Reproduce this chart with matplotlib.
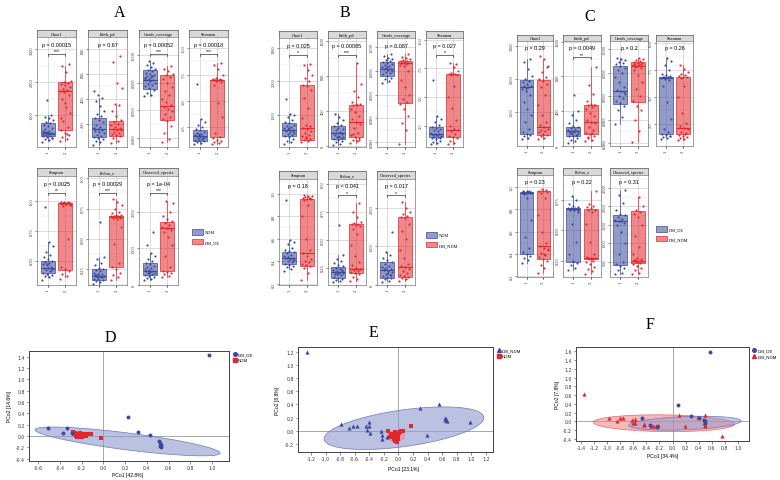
import numpy as np
import matplotlib
matplotlib.use("Agg")
import matplotlib.pyplot as plt
from matplotlib.patches import Patch
from matplotlib.lines import Line2D
from matplotlib.colors import to_rgba
import matplotlib.transforms as mtrans
from matplotlib.ticker import FormatStrFormatter, MultipleLocator

# ---------------- DATA: alpha diversity box panels ----------------
metrics = ["Chao1", "Faith_pd", "Goods_coverage", "Shannon", "Simpson", "Pielou_e", "Observed_species"]
groups_A = ["NDM", "DM_DE"]
groups_B = ["NDM", "DM_NDM"]
groups_C = ["DM_DE", "DM_NDM"]

# box stats: [whisker_lo, q1, median, q3, whisker_hi] per group
# ----- Panel A -----
A_chao1_box = [[200, 370, 450, 740, 1000], [200, 550, 1720, 2000, 2500]]
A_chao1_g1 = [180, 220, 260, 300, 330, 350, 370, 390, 410, 420, 440, 450, 470, 500, 520, 560, 600, 650, 700, 740, 780, 850, 900, 950, 1000, 1450, 380, 430, 480, 310]
A_chao1_g2 = [200, 260, 330, 380, 450, 550, 620, 800, 1050, 1250, 1500, 1600, 1700, 1720, 1750, 1800, 1850, 1900, 1950, 1980, 2000, 2050, 2300, 2500, 2550, 1350, 900, 420]
A_faith_box = [[25, 88, 152, 248, 405], [40, 101, 152, 217, 350]]
A_faith_g1 = [30, 50, 60, 75, 85, 90, 100, 110, 120, 130, 140, 150, 155, 160, 175, 190, 210, 230, 245, 260, 280, 300, 340, 380, 405, 430, 460]
A_faith_g2 = [40, 60, 80, 95, 105, 115, 125, 135, 145, 150, 155, 165, 175, 185, 200, 215, 230, 260, 300, 350, 357, 490, 530, 700, 750]
A_goods_box = [[0.9925, 0.9939, 0.9955, 0.9972, 0.9988], [0.9843, 0.9882, 0.9908, 0.9964, 0.9979]]
A_goods_g1 = [0.9925, 0.9928, 0.9932, 0.9936, 0.994, 0.9943, 0.9946, 0.9948, 0.995, 0.9952, 0.9954, 0.9955, 0.9957, 0.9959, 0.996, 0.9962, 0.9964, 0.9966, 0.9968, 0.997, 0.9972, 0.9975, 0.9978, 0.9982, 0.9985, 0.9988, 0.9958, 0.9962]
A_goods_g2 = [0.9843, 0.9848, 0.986, 0.9872, 0.988, 0.9884, 0.9888, 0.9893, 0.9898, 0.9902, 0.9906, 0.991, 0.9915, 0.992, 0.9928, 0.9935, 0.9942, 0.995, 0.9956, 0.996, 0.9963, 0.9966, 0.997, 0.9975, 0.9979]
A_shannon_box = [[0.9, 1.23, 1.7, 2.24, 3.29], [0.9, 1.58, 6.97, 7.03, 8.6]]
A_shannon_g1 = [0.9, 1.0, 1.1, 1.2, 1.25, 1.3, 1.4, 1.5, 1.55, 1.6, 1.65, 1.7, 1.75, 1.8, 1.9, 2.0, 2.1, 2.2, 2.3, 2.5, 2.7, 3.0, 3.3, 6.6, 1.45, 1.85]
A_shannon_g2 = [0.9, 1.0, 1.1, 1.2, 1.3, 1.5, 1.6, 2.0, 3.5, 4.8, 6.5, 6.8, 6.9, 6.95, 6.97, 7.0, 7.0, 7.02, 7.05, 7.1, 7.2, 7.5, 8.0, 8.4, 8.6, 6.98]
A_simpson_box = [[0.36, 0.40, 0.44, 0.50, 0.66], [0.36, 0.42, 0.98, 0.985, 0.99]]
A_simpson_g1 = [0.34, 0.36, 0.37, 0.38, 0.39, 0.40, 0.41, 0.42, 0.43, 0.44, 0.44, 0.45, 0.46, 0.47, 0.48, 0.49, 0.50, 0.51, 0.53, 0.55, 0.57, 0.62, 0.66, 0.95, 0.42, 0.47]
A_simpson_g2 = [0.35, 0.37, 0.39, 0.41, 0.43, 0.45, 0.68, 0.96, 0.97, 0.975, 0.978, 0.98, 0.98, 0.982, 0.983, 0.985, 0.986, 0.987, 0.988, 0.99, 0.99, 0.97, 0.975]
A_pielou_box = [[0.13, 0.161, 0.195, 0.25, 0.35], [0.16, 0.27, 0.68, 0.685, 0.83]]
A_pielou_g1 = [0.13, 0.14, 0.15, 0.16, 0.165, 0.17, 0.18, 0.185, 0.19, 0.195, 0.2, 0.205, 0.21, 0.22, 0.23, 0.24, 0.25, 0.26, 0.28, 0.3, 0.33, 0.35, 0.64, 0.2, 0.18]
A_pielou_g2 = [0.16, 0.18, 0.2, 0.22, 0.25, 0.27, 0.3, 0.46, 0.6, 0.66, 0.67, 0.68, 0.68, 0.685, 0.69, 0.69, 0.7, 0.7, 0.71, 0.72, 0.75, 0.78, 0.8, 0.83, 0.67]
A_observed_box = [[140, 270, 380, 590, 860], [200, 370, 1550, 1740, 2300]]
A_observed_g1 = [120, 150, 180, 210, 240, 270, 290, 310, 330, 350, 370, 380, 400, 420, 450, 480, 520, 560, 590, 640, 700, 780, 860, 1100, 1450, 330]
A_observed_g2 = [200, 240, 280, 320, 360, 380, 500, 800, 1100, 1300, 1450, 1500, 1550, 1600, 1650, 1700, 1750, 1800, 1900, 2000, 2300, 2250, 1560]
A_ptext = ["p = 0.00015", "p = 0.67", "p = 0.00052", "p = 0.00018", "p = 0.0025", "p = 0.00029", "p = 1e-04"]
A_stars = ["***", "", "***", "***", "**", "***", "***"]

# ----- Panel B -----
B_chao1_box = [[150, 365, 550, 740, 1020], [200, 250, 600, 1890, 2520]]
B_chao1_g1 = [120, 170, 220, 280, 330, 360, 390, 420, 450, 480, 510, 540, 560, 590, 620, 660, 700, 740, 780, 850, 920, 980, 1020, 1470, 500, 610]
B_chao1_g2 = [180, 220, 250, 280, 320, 360, 400, 450, 500, 560, 600, 650, 700, 900, 1200, 1500, 1750, 1850, 1900, 2000, 2100, 2200, 2350, 2500, 2520, 300]
B_faith_box = [[10, 77, 140, 228, 362], [30, 96, 267, 468, 940]]
B_faith_g1 = [10, 25, 40, 55, 65, 75, 85, 95, 105, 115, 125, 135, 140, 150, 160, 175, 190, 205, 220, 235, 260, 290, 330, 362, 145, 100]
B_faith_g2 = [30, 50, 70, 90, 100, 120, 150, 200, 250, 270, 300, 340, 380, 420, 460, 470, 475, 480, 500, 560, 620, 700, 940, 130, 60]
B_goods_box = [[0.9924, 0.994, 0.9955, 0.9968, 0.9985], [0.9795, 0.9882, 0.9966, 0.9971, 0.9985]]
B_goods_g1 = [0.9924, 0.9928, 0.9932, 0.9936, 0.994, 0.9943, 0.9946, 0.9948, 0.995, 0.9952, 0.9954, 0.9955, 0.9957, 0.9959, 0.996, 0.9962, 0.9964, 0.9966, 0.9968, 0.997, 0.9972, 0.9975, 0.9978, 0.9982, 0.9985, 0.9958]
B_goods_g2 = [0.9795, 0.9825, 0.984, 0.9855, 0.987, 0.988, 0.9885, 0.989, 0.99, 0.9915, 0.993, 0.995, 0.996, 0.9963, 0.9965, 0.9966, 0.9967, 0.9968, 0.997, 0.9971, 0.9973, 0.9975, 0.9978, 0.998, 0.9985]
B_shannon_box = [[0.9, 1.49, 1.78, 2.36, 3.37], [0.9, 1.49, 2.1, 7.0, 8.0]]
B_shannon_g1 = [0.9, 1.0, 1.1, 1.2, 1.3, 1.4, 1.5, 1.55, 1.6, 1.65, 1.7, 1.75, 1.8, 1.9, 2.0, 2.1, 2.2, 2.3, 2.4, 2.6, 2.8, 3.1, 3.37, 6.5, 1.45]
B_shannon_g2 = [0.9, 1.0, 1.2, 1.4, 1.5, 1.6, 1.8, 2.0, 2.1, 2.2, 2.5, 3.0, 4.0, 5.0, 6.0, 6.9, 6.95, 7.0, 7.0, 7.05, 7.1, 7.3, 7.6, 8.0, 7.9]
B_simpson_box = [[0.33, 0.38, 0.43, 0.48, 0.59], [0.23, 0.36, 0.47, 0.956, 0.99]]
B_simpson_g1 = [0.31, 0.33, 0.35, 0.36, 0.37, 0.38, 0.39, 0.40, 0.41, 0.42, 0.43, 0.43, 0.44, 0.45, 0.46, 0.47, 0.48, 0.49, 0.5, 0.52, 0.55, 0.57, 0.59, 0.94, 0.41]
B_simpson_g2 = [0.23, 0.3, 0.34, 0.36, 0.37, 0.38, 0.39, 0.4, 0.42, 0.45, 0.47, 0.5, 0.6, 0.8, 0.9, 0.94, 0.95, 0.955, 0.96, 0.965, 0.97, 0.975, 0.98, 0.99, 0.96]
B_pielou_box = [[0.12, 0.16, 0.21, 0.255, 0.36], [0.13, 0.2, 0.24, 0.64, 0.83]]
B_pielou_g1 = [0.12, 0.13, 0.14, 0.15, 0.16, 0.17, 0.18, 0.19, 0.2, 0.205, 0.21, 0.215, 0.22, 0.23, 0.24, 0.25, 0.26, 0.27, 0.29, 0.31, 0.33, 0.36, 0.63, 0.19, 0.23]
B_pielou_g2 = [0.13, 0.15, 0.17, 0.19, 0.2, 0.21, 0.22, 0.23, 0.24, 0.25, 0.27, 0.3, 0.35, 0.45, 0.55, 0.6, 0.62, 0.63, 0.64, 0.64, 0.65, 0.66, 0.7, 0.75, 0.83]
B_observed_box = [[100, 175, 375, 590, 850], [100, 200, 460, 1770, 2150]]
B_observed_g1 = [60, 100, 140, 175, 200, 230, 260, 290, 320, 350, 375, 400, 430, 460, 500, 540, 590, 640, 700, 780, 850, 1380, 300, 420, 250]
B_observed_g2 = [100, 150, 180, 200, 230, 260, 300, 350, 400, 460, 500, 550, 700, 900, 1200, 1400, 1600, 1750, 1770, 1800, 1850, 1900, 2000, 2150]
B_ptext = ["p = 0.025", "p = 0.00085", "p = 0.087", "p = 0.027", "p = 0.18", "p = 0.041", "p = 0.017"]
B_stars = ["*", "***", "", "*", "", "*", "*"]

# ----- Panel C -----
C_chao1_box = [[180, 330, 1750, 1960, 2600], [180, 300, 540, 1980, 2600]]
C_chao1_g1 = [180, 220, 260, 300, 330, 400, 500, 700, 900, 1100, 1300, 1500, 1650, 1700, 1750, 1780, 1800, 1850, 1900, 1950, 2000, 2100, 2300, 2500, 2600, 1720]
C_chao1_g2 = [180, 220, 260, 300, 340, 380, 420, 460, 500, 540, 600, 700, 900, 1200, 1500, 1750, 1850, 1950, 2000, 2050, 2200, 2400, 2600, 2700, 2350]
C_faith_box = [[30, 114, 165, 210, 400], [50, 133, 274, 465, 914]]
C_faith_g1 = [30, 50, 70, 90, 105, 115, 125, 135, 145, 155, 160, 165, 170, 180, 190, 200, 210, 230, 260, 300, 350, 400, 590, 150, 120]
C_faith_g2 = [50, 70, 90, 110, 130, 150, 180, 220, 260, 275, 300, 340, 380, 420, 450, 465, 470, 480, 520, 600, 700, 914, 140, 100, 470]
C_goods_box = [[0.984, 0.9883, 0.9911, 0.9964, 0.9981], [0.9802, 0.9888, 0.9964, 0.9972, 0.998]]
C_goods_g1 = [0.984, 0.9855, 0.987, 0.988, 0.9885, 0.989, 0.9895, 0.99, 0.9905, 0.991, 0.9912, 0.992, 0.993, 0.994, 0.995, 0.9955, 0.996, 0.9964, 0.9968, 0.997, 0.9973, 0.9976, 0.9978, 0.9981, 0.9908]
C_goods_g2 = [0.9802, 0.9825, 0.985, 0.987, 0.988, 0.989, 0.99, 0.9915, 0.993, 0.9945, 0.9955, 0.996, 0.9963, 0.9965, 0.9966, 0.9968, 0.997, 0.9971, 0.9972, 0.9974, 0.9976, 0.9978, 0.998, 0.9962, 0.9969]
C_shannon_box = [[1.27, 1.57, 6.8, 6.9, 8.6], [1.0, 1.57, 2.1, 6.9, 8.0]]
C_shannon_g1 = [1.1, 1.2, 1.3, 1.4, 1.5, 1.6, 1.8, 2.0, 3.0, 4.5, 6.0, 6.6, 6.7, 6.8, 6.85, 6.9, 6.95, 7.0, 7.1, 7.5, 8.0, 8.3, 8.6, 6.88, 1.35]
C_shannon_g2 = [1.0, 1.1, 1.2, 1.3, 1.4, 1.5, 1.6, 1.8, 2.0, 2.1, 2.3, 2.6, 3.5, 5.0, 6.0, 6.8, 6.9, 6.9, 6.95, 7.0, 7.1, 7.3, 7.6, 8.0, 1.7]
C_simpson_box = [[0.32, 0.4, 0.95, 0.958, 0.97], [0.23, 0.35, 0.47, 0.966, 0.98]]
C_simpson_g1 = [0.32, 0.34, 0.36, 0.38, 0.4, 0.42, 0.45, 0.55, 0.7, 0.9, 0.94, 0.945, 0.95, 0.95, 0.955, 0.958, 0.96, 0.962, 0.965, 0.97, 0.948, 0.952]
C_simpson_g2 = [0.23, 0.27, 0.3, 0.33, 0.35, 0.37, 0.39, 0.41, 0.43, 0.45, 0.47, 0.5, 0.6, 0.75, 0.9, 0.95, 0.96, 0.965, 0.97, 0.975, 0.98, 0.44, 0.4]
C_pielou_box = [[0.17, 0.235, 0.675, 0.68, 0.78], [0.14, 0.265, 0.27, 0.675, 0.82]]
C_pielou_g1 = [0.17, 0.19, 0.21, 0.23, 0.25, 0.3, 0.4, 0.55, 0.65, 0.665, 0.67, 0.675, 0.675, 0.68, 0.68, 0.685, 0.69, 0.7, 0.72, 0.75, 0.78, 0.67]
C_pielou_g2 = [0.14, 0.16, 0.18, 0.2, 0.22, 0.24, 0.25, 0.26, 0.27, 0.27, 0.28, 0.3, 0.4, 0.55, 0.65, 0.665, 0.67, 0.68, 0.69, 0.7, 0.72, 0.82, 0.26]
C_observed_box = [[150, 408, 1610, 1763, 2430], [150, 470, 520, 1860, 2250]]
C_observed_g1 = [150, 200, 260, 320, 380, 420, 500, 700, 1000, 1300, 1500, 1560, 1600, 1620, 1650, 1700, 1760, 1800, 1900, 2100, 2300, 2430, 1590]
C_observed_g2 = [150, 200, 260, 320, 380, 430, 470, 490, 510, 520, 540, 560, 600, 700, 900, 1200, 1500, 1700, 1800, 1850, 1900, 2000, 2250, 550]
C_ptext = ["p = 0.29", "p = 0.0049", "p = 0.2", "p = 0.26", "p = 0.23", "p = 0.22", "p = 0.31"]
C_stars = ["", "**", "", "", "", "", ""]

# ---------------- DATA: PCoA panels ----------------
D_DMDE_x = [-0.51, -0.37, -0.33, -0.29, 0.23, 0.32, 0.43, 0.51, 0.52, 0.53, 0.52, 0.53, 0.97]
D_DMDE_y = [0.14, 0.06, 0.14, 0.06, 0.34, 0.08, 0.02, -0.09, -0.12, -0.15, -0.17, -0.19, 1.43]
D_NDM_x = [-0.28, -0.27, -0.26, -0.25, -0.24, -0.23, -0.22, -0.21, -0.21, -0.2, -0.19, -0.18, -0.17, -0.16, -0.15, -0.13, -0.11, -0.24, -0.2, -0.02]
D_NDM_y = [0.07, 0.03, 0.05, 0.0, -0.02, 0.01, 0.03, 0.05, -0.02, 0.0, 0.03, 0.01, 0.02, 0.0, 0.03, 0.03, 0.03, 0.04, -0.01, -0.04]
D_ellipse = [(0.223, -0.095), (0.851, -0.205), (0.0, 0.15)]

E_DMNDM_x = [-1.25, -0.79, -0.68, -0.63, -0.57, -0.45, -0.40, -0.41, -0.43, -0.39, -0.24, -0.23, -0.23, -0.16, 0.29, 0.39, 0.56, 0.64, 0.65, 0.66, 0.64, 0.98]
E_DMNDM_y = [1.2, 0.10, 0.05, 0.075, 0.08, 0.07, 0.13, 0.07, 0.01, -0.03, -0.01, -0.07, -0.12, -0.09, 0.35, -0.07, 0.41, 0.2, 0.18, 0.15, 0.16, 0.13]
E_NDM_x = [-0.15, -0.1, -0.08, -0.06, -0.05, -0.04, -0.03, -0.02, -0.01, 0.0, 0.01, 0.02, 0.04, 0.06, -0.07, -0.05, -0.03, -0.02, 0.0, 0.17, -0.12, -0.04]
E_NDM_y = [0.0, -0.05, -0.1, -0.13, -0.15, -0.08, -0.12, -0.17, -0.05, -0.1, -0.03, -0.02, 0.0, -0.01, -0.06, -0.02, -0.14, -0.09, -0.13, 0.07, -0.1, -0.16]
E_ellipse_blue = [(0.075, 0.04), (1.095, 0.16), (0.0, 0.28)]
E_ellipse_red = [(-0.04, -0.08), (0.12, 0.0), (0.0, 0.08)]

F_DMDE_x = [0.57, 0.09, 0.29, 0.41, -0.46, -0.35, -0.23, 0.48, 0.49, 0.50]
F_DMDE_y = [1.59, 0.38, 0.13, 0.09, 0.07, -0.07, -0.13, 0.03, 0.0, -0.03]
F_DMNDM_x = [-1.35, -0.97, -0.85, -0.81, -0.75, -0.62, -0.58, -0.60, -0.57, -0.43, -0.43, -0.33, -0.30, -0.26, -0.22, 0.095, 0.19, 0.39, 0.50, 0.48, 0.49, 0.50, 0.75]
F_DMNDM_y = [0.63, 0.07, 0.02, 0.08, 0.08, 0.03, 0.06, -0.03, -0.03, -0.05, -0.09, -0.1, -0.1, -0.1, -0.09, 0.15, -0.11, 0.10, 0.15, -0.03, -0.07, -0.1, -0.34]
F_ellipse_red = [(-0.13, -0.04), (1.08, -0.02), (0.0, 0.19)]
F_ellipse_blue = [(0.19, -0.04), (0.86, 0.05), (0.0, 0.15)]

# ---------------- STYLE ----------------
BLUE = "#3A4A9C"
RED = "#E3262B"
W, H = 780, 481
SERIF = ["Liberation Serif", "DejaVu Serif"]
SANS = ["Liberation Sans", "DejaVu Sans"]

fig = plt.figure(figsize=(7.8, 4.81), dpi=100)
fig.patch.set_facecolor("white")


def rect(x0, y0, x1, y1):
    return [x0 / W, 1 - y1 / H, (x1 - x0) / W, (y1 - y0) / H]


def jitter(n):
    return ((np.arange(n) * 0.6180339887) % 1.0 - 0.5) * 0.62


def box_panel(x0, x1, ys0, y0, y1, name, box, g1, g2, ylim, yticks, yfmt,
              ptext, stars, groups):
    sax = fig.add_axes(rect(x0, ys0, x1, y0))
    sax.set_facecolor("#D9D9D9")
    sax.set_xticks([]); sax.set_yticks([])
    for s in sax.spines.values():
        s.set_color("#555555"); s.set_linewidth(0.5)
    sax.text(0.5, 0.45, name, ha="center", va="center", fontsize=3.2,
             family=SERIF, transform=sax.transAxes)

    ax = fig.add_axes(rect(x0, y0, x1, y1))
    ax.set_xlim(0.4, 2.6)
    ax.set_ylim(*ylim)
    ax.set_yticks(yticks)
    minor = [(a + b) / 2 for a, b in zip(yticks[:-1], yticks[1:])]
    step = yticks[1] - yticks[0]
    minor = [yticks[0] - step / 2] + minor + [yticks[-1] + step / 2]
    for m in minor:
        ax.axhline(m, color="#E6E6E6", lw=0.3, zorder=0)
    for t in yticks:
        ax.axhline(t, color="#CFCFCF", lw=0.5, zorder=0)
    for xx in (1, 2):
        ax.axvline(xx, color="#CFCFCF", lw=0.5, zorder=0)
    ax.set_yticklabels([yfmt.format(t) for t in yticks], rotation=90,
                       va="center", fontsize=3.2, family=SERIF)
    ax.set_xticks([1, 2])
    ax.set_xticklabels(groups, rotation=90, fontsize=3.4, family=SERIF)
    ax.tick_params(length=1.5, width=0.4, pad=1, colors="#333333")
    for s in ax.spines.values():
        s.set_color("#777777"); s.set_linewidth(0.5)

    cols = [BLUE, RED]
    for i, (b, c) in enumerate(zip(box, cols)):
        st = dict(whislo=b[0], q1=b[1], med=b[2], q3=b[3], whishi=b[4])
        ax.bxp([st], positions=[i + 1], widths=0.8, patch_artist=True,
               showfliers=False, showcaps=False,
               boxprops=dict(facecolor=to_rgba(c, 0.55), edgecolor=c, linewidth=0.5),
               medianprops=dict(color=c, linewidth=0.8),
               whiskerprops=dict(color=c, linewidth=0.5), zorder=2)
    for i, (vals, c) in enumerate(zip([g1, g2], cols)):
        vals = np.asarray(vals)
        ax.scatter(i + 1 + jitter(len(vals)), vals, s=2.4, color=c, lw=0, zorder=3)

    tr = mtrans.blended_transform_factory(ax.transData, ax.transAxes)
    ax.text(1.5, 0.935, ptext, ha="center", va="center", fontsize=3.9,
            family=SANS, transform=tr)
    if stars:
        ax.plot([1, 1, 2, 2], [0.83, 0.845, 0.845, 0.83], color="black",
                lw=0.4, transform=tr, clip_on=False)
        ax.text(1.5, 0.85, stars, ha="center", va="bottom", fontsize=3.6,
                family=SANS, transform=tr)
    return ax


def make_group(prefix, groups, top_x, bot_x, top_y, bot_y, ptext, stars, specs, legend_xy):
    names_top = metrics[:4]
    names_bot = metrics[4:]
    for j, nm in enumerate(names_top):
        sp = specs[j]
        box_panel(top_x[j][0], top_x[j][1], top_y[0], top_y[1], top_y[2], nm,
                  sp[0], sp[1], sp[2], sp[3], sp[4], sp[5], ptext[j], stars[j], groups)
    for j, nm in enumerate(names_bot):
        sp = specs[4 + j]
        box_panel(bot_x[j][0], bot_x[j][1], bot_y[0], bot_y[1], bot_y[2], nm,
                  sp[0], sp[1], sp[2], sp[3], sp[4], sp[5], ptext[4 + j], stars[4 + j], groups)
    handles = [Patch(facecolor=to_rgba(BLUE, 0.55), edgecolor=BLUE, lw=0.5),
               Patch(facecolor=to_rgba(RED, 0.55), edgecolor=RED, lw=0.5)]
    fig.legend(handles, groups, loc="upper left",
               bbox_to_anchor=(legend_xy[0] / W, 1 - legend_xy[1] / H),
               frameon=False, handlelength=2.4, handleheight=1.6,
               labelspacing=0.9, handletextpad=0.6, prop=dict(family=SERIF, size=3.2))


specA = [
    (A_chao1_box, A_chao1_g1, A_chao1_g2, (20, 3380), [1000, 2000, 3000], "{:.0f}"),
    (A_faith_box, A_faith_g1, A_faith_g2, (10, 900), [200, 400, 600, 800], "{:.0f}"),
    (A_goods_box, A_goods_g1, A_goods_g2, (0.9834, 1.0032), [0.985, 0.990, 0.995, 1.000], "{:.3f}"),
    (A_shannon_box, A_shannon_g1, A_shannon_g2, (0.63, 11.07), [2.5, 5.0, 7.5, 10.0], "{:.1f}"),
    (A_simpson_box, A_simpson_g1, A_simpson_g2, (0.296, 1.209), [0.5, 0.75, 1.0], "{:.2f}"),
    (A_pielou_box, A_pielou_g1, A_pielou_g2, (0.118, 1.019), [0.25, 0.5, 0.75, 1.0], "{:.2f}"),
    (A_observed_box, A_observed_g1, A_observed_g2, (-10, 2995), [0, 1000, 2000], "{:.0f}"),
]
specB = [
    (B_chao1_box, B_chao1_g1, B_chao1_g2, (27, 3310), [1000, 2000, 3000], "{:.0f}"),
    (B_faith_box, B_faith_g1, B_faith_g2, (-15, 1231), [0, 400, 800, 1200], "{:.0f}"),
    (B_goods_box, B_goods_g1, B_goods_g2, (0.9789, 1.00196), [0.980, 0.985, 0.990, 0.995, 1.000], "{:.3f}"),
    (B_shannon_box, B_shannon_g1, B_shannon_g2, (0.64, 10.15), [2.5, 5.0, 7.5, 10.0], "{:.1f}"),
    (B_simpson_box, B_simpson_g1, B_simpson_g2, (0.19, 1.13), [0.2, 0.4, 0.6, 0.8, 1.0], "{:.1f}"),
    (B_pielou_box, B_pielou_g1, B_pielou_g2, (0.094, 1.044), [0.25, 0.5, 0.75, 1.0], "{:.2f}"),
    (B_observed_box, B_observed_g1, B_observed_g2, (-10, 2765), [0, 1000, 2000], "{:.0f}"),
]
specC = [
    (C_chao1_box, C_chao1_g1, C_chao1_g2, (-30, 3150), [1000, 2000, 3000], "{:.0f}"),
    (C_faith_box, C_faith_g1, C_faith_g2, (-5, 1210), [0, 400, 800, 1200], "{:.0f}"),
    (C_goods_box, C_goods_g1, C_goods_g2, (0.9794, 1.0017), [0.980, 0.985, 0.990, 0.995, 1.000], "{:.3f}"),
    (C_shannon_box, C_shannon_g1, C_shannon_g2, (0.46, 10.19), [2.5, 5.0, 7.5, 10.0], "{:.1f}"),
    (C_simpson_box, C_simpson_g1, C_simpson_g2, (0.19, 1.11), [0.2, 0.4, 0.6, 0.8, 1.0], "{:.1f}"),
    (C_pielou_box, C_pielou_g1, C_pielou_g2, (0.114, 0.956), [0.25, 0.5, 0.75], "{:.2f}"),
    (C_observed_box, C_observed_g1, C_observed_g2, (80, 2850), [500, 1000, 1500, 2000, 2500], "{:.0f}"),
]

make_group("A", groups_A,
           [(37, 76), (88, 127), (139, 178), (189, 228)],
           [(37, 76), (88, 127), (139, 178)],
           (31, 38, 148), (169, 177, 286), A_ptext, A_stars, specA, (188, 226))
make_group("B", groups_B,
           [(279, 317), (328, 366), (377, 415), (426, 463)],
           [(279, 317), (328, 366), (377, 415)],
           (32, 39, 148), (172, 180, 286), B_ptext, B_stars, specB, (422, 229))
make_group("C", groups_C,
           [(517, 553), (563, 601), (610, 648), (656, 693)],
           [(517, 553), (563, 601), (610, 648)],
           (36, 42, 147), (169, 176, 278), C_ptext, C_stars, specC, (652, 223))

for lab, (x, y) in {"A": (120, 13), "B": (345, 13), "C": (590, 17),
                    "D": (110, 338), "E": (373, 333), "F": (650, 325)}.items():
    fig.text(x / W, 1 - y / H, lab, ha="center", va="center", fontsize=11.5,
             family=SERIF)


# ---------------- PCoA panels ----------------
def ellipse(ax, params, fc, ec, alpha, z=1):
    c, u, v = params
    t = np.linspace(0, 2 * np.pi, 300)
    xs = c[0] + np.cos(t) * u[0] + np.sin(t) * v[0]
    ys = c[1] + np.cos(t) * u[1] + np.sin(t) * v[1]
    ax.fill(xs, ys, facecolor=to_rgba(fc, alpha), edgecolor=ec, lw=0.5, zorder=z)


def pcoa_axes(box, xlim, ylim, xlab, ylab, xlabxy, ylabx):
    ax = fig.add_axes(rect(*box))
    ax.set_xlim(*xlim); ax.set_ylim(*ylim)
    ax.xaxis.set_major_locator(MultipleLocator(0.2))
    ax.yaxis.set_major_locator(MultipleLocator(0.2))
    ax.xaxis.set_major_formatter(FormatStrFormatter("%.1f"))
    ax.yaxis.set_major_formatter(FormatStrFormatter("%.1f"))
    ax.tick_params(labelsize=3.3, length=1.8, width=0.4, pad=1.2, colors="#333333")
    for s in ax.spines.values():
        s.set_color("#444444"); s.set_linewidth(0.7)
    ax.axvline(0, color="#9A9A9A", lw=0.6, zorder=0.5)
    ax.axhline(0, color="#9A9A9A", lw=0.6, zorder=0.5)
    fig.text(xlabxy[0] / W, 1 - xlabxy[1] / H, xlab, ha="center", va="center",
             fontsize=3.6, family=SANS)
    cy = (box[1] + box[3]) / 2
    fig.text(ylabx / W, 1 - cy / H, ylab, ha="center", va="center", rotation=90,
             fontsize=3.6, family=SANS)
    return ax


def pcoa_legend(ax, handles, labels):
    ax.legend(handles, labels, loc="upper left", bbox_to_anchor=(1.01, 1.0),
              frameon=False, handlelength=0.8, handletextpad=0.4,
              labelspacing=0.3, borderaxespad=0.2, borderpad=0.2,
              prop=dict(family=SANS, size=3.2))


# D
axD = pcoa_axes((29, 352, 229, 462), (-0.683, 1.156), (-0.44, 1.5),
                "PCo1 [42.8%]", "PCo2 [14.6%]", (128, 476), 10)
ellipse(axD, D_ellipse, "#8F98CC", "#6F79B5", 0.6)
axD.scatter(D_NDM_x, D_NDM_y, marker="s", s=6, color=RED, lw=0, zorder=3)
axD.scatter(D_DMDE_x, D_DMDE_y, marker="o", s=8, color=BLUE, lw=0, zorder=3)
pcoa_legend(axD, [Line2D([], [], marker="o", ls="", color=BLUE, ms=2.6),
                  Line2D([], [], marker="s", ls="", color=RED, ms=2.2)],
            ["DM_DE", "NDM"])

# E
axE = pcoa_axes((298, 348, 493, 453), (-1.378, 1.296), (-0.321, 1.271),
                "PCo1 [23.1%]", "PCo2 [8.8%]", (403, 470), 277)
ellipse(axE, E_ellipse_blue, "#8F98CC", "#6F79B5", 0.6)
ellipse(axE, E_ellipse_red, "#F08A8E", "#F08A8E", 0.5, z=1.5)
axE.scatter(E_NDM_x, E_NDM_y, marker="s", s=6, color=RED, lw=0, zorder=3)
axE.scatter(E_DMNDM_x, E_DMNDM_y, marker="^", s=9, color=BLUE, lw=0, zorder=3)
pcoa_legend(axE, [Line2D([], [], marker="^", ls="", color=BLUE, ms=2.8),
                  Line2D([], [], marker="s", ls="", color=RED, ms=2.2)],
            ["DM_NDM", "NDM"])

# F
axF = pcoa_axes((576, 348, 749, 442), (-1.476, 1.17), (-0.446, 1.698),
                "PCo1 [34.4%]", "PCo2 [7.8%]", (663, 457), 557)
ellipse(axF, F_ellipse_red, "#EE7F84", "#E8646A", 0.55)
ellipse(axF, F_ellipse_blue, "#8F98CC", "#6F79B5", 0.5, z=1.2)
axF.scatter(F_DMNDM_x, F_DMNDM_y, marker="^", s=9, color=RED, lw=0, zorder=3)
axF.scatter(F_DMDE_x, F_DMDE_y, marker="o", s=8, color=BLUE, lw=0, zorder=3)
pcoa_legend(axF, [Line2D([], [], marker="o", ls="", color=BLUE, ms=2.6),
                  Line2D([], [], marker="^", ls="", color=RED, ms=2.8)],
            ["DM_DE", "DM_NDM"])

fig.savefig("out.png", dpi=100, facecolor="white")
